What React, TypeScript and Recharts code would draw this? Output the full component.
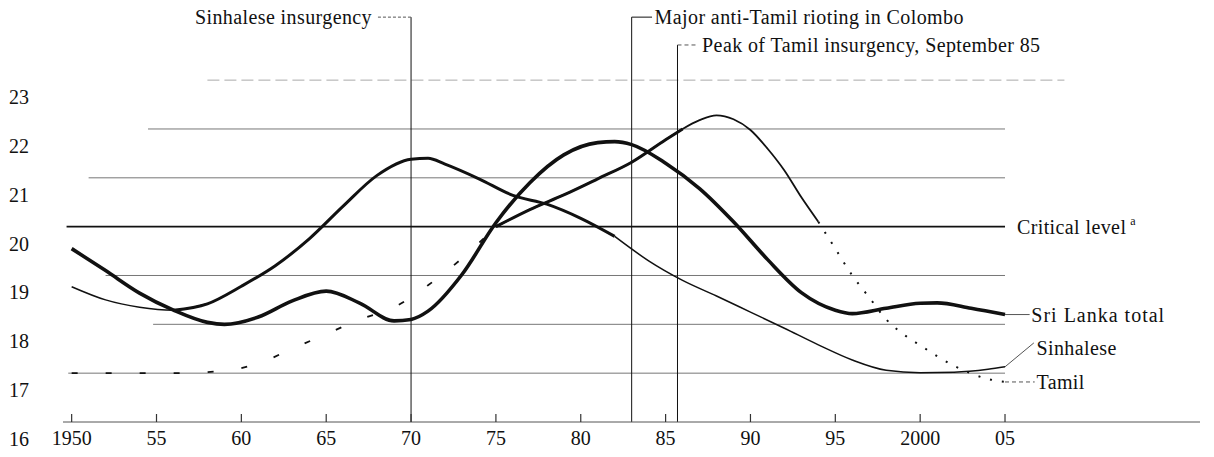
import React from "react";
import {
  LineChart,
  Line,
  XAxis,
  YAxis,
  ReferenceLine,
  ReferenceDot,
} from "recharts";

// ---------- data (percent of youth) ----------
const TOTAL_YEARS = [1950, 1952, 1954, 1956, 1958, 1959, 1961, 1963, 1965, 1967, 1969, 1970, 1971, 1973, 1975, 1977, 1979, 1981, 1982, 1983, 1985, 1987, 1989, 1991, 1993, 1995, 1996, 1998, 2000, 2001, 2003, 2005];
const TOTAL_VALUES = [19.55, 19.1, 18.64, 18.29, 18.04, 18.0, 18.15, 18.48, 18.68, 18.43, 18.07, 18.1, 18.27, 19.02, 20.08, 20.9, 21.47, 21.72, 21.74, 21.68, 21.3, 20.78, 20.1, 19.33, 18.65, 18.29, 18.22, 18.33, 18.43, 18.44, 18.33, 18.2];

const SINHALESE_YEARS = [1950, 1952, 1954, 1956, 1958, 1960, 1962, 1964, 1966, 1968, 1970, 1971, 1972, 1974, 1976, 1978, 1980, 1982, 1984, 1986, 1988, 1990, 1992, 1994, 1996, 1998, 2000, 2002, 2004, 2005];
const SINHALESE_VALUES = [18.77, 18.5, 18.35, 18.29, 18.42, 18.78, 19.2, 19.75, 20.42, 21.05, 21.38, 21.4, 21.28, 20.98, 20.64, 20.46, 20.17, 19.8, 19.3, 18.9, 18.58, 18.25, 17.92, 17.58, 17.27, 17.06, 17.01, 17.02, 17.08, 17.13];

const TAMIL_YEARS = [1950, 1953, 1956, 1959, 1961, 1963, 1965, 1967, 1969, 1971, 1973, 1975, 1977, 1979, 1981, 1983, 1985, 1986, 1987, 1988, 1989, 1990, 1991, 1992, 1993, 1994, 1995, 1996, 1997, 1998, 1999, 2000, 2002, 2004, 2005];
const TAMIL_VALUES = [17.0, 17.0, 17.0, 17.05, 17.2, 17.5, 17.8, 18.1, 18.35, 18.8, 19.35, 20.0, 20.35, 20.65, 20.98, 21.32, 21.78, 22.0, 22.18, 22.28, 22.2, 21.98, 21.6, 21.15, 20.6, 20.1, 19.55, 19.0, 18.55, 18.1, 17.8, 17.57, 17.15, 16.88, 16.82];

const X_TICKS = [1950, 1955, 1960, 1965, 1970, 1975, 1980, 1985, 1990, 1995, 2000, 2005];
const X_TICK_LABELS = ["1950", "55", "60", "65", "70", "75", "80", "85", "90", "95", "2000", "05"];
const Y_TICKS = [16, 17, 18, 19, 20, 21, 22, 23];
const CRITICAL_LEVEL = 20;

const EVENTS = [
  { year: 1970, label: "Sinhalese insurgency" },
  { year: 1983, label: "Major anti-Tamil rioting in Colombo" },
  { year: 1985.7, label: "Peak of Tamil insurgency, September 85" },
];

// ---------- helpers ----------
type Pt = { year: number; v: number };
const toPoints = (years: number[], values: number[]): Pt[] =>
  years.map((y, i) => ({ year: y, v: values[i] }));
const seg = (pts: Pt[], from: number, to: number) =>
  pts.filter((p) => p.year >= from && p.year <= to);

const total = toPoints(TOTAL_YEARS, TOTAL_VALUES);
const sinhalese = toPoints(SINHALESE_YEARS, SINHALESE_VALUES);
const tamil = toPoints(TAMIL_YEARS, TAMIL_VALUES);

const FONT = '"Liberation Serif", "Times New Roman", serif';
const INK = "#111";
const GRID = "#777";

const W = 1214;
const H = 457;

const XTick = (props: any) => {
  const { x, y, payload } = props;
  const idx = X_TICKS.indexOf(payload.value);
  return (
    <g>
      <line x1={x} x2={x} y1={y - 8} y2={y} stroke="#333" strokeWidth={1.2} />
      <text x={x} y={y + 23} textAnchor="middle" fontFamily={FONT} fontSize={20} fill={INK}>
        {X_TICK_LABELS[idx]}
      </text>
    </g>
  );
};

const YTick = (props: any) => {
  const { x, y, payload } = props;
  return (
    <text x={x - 54} y={y + 24} textAnchor="start" fontFamily={FONT} fontSize={20} fill={INK}>
      {payload.value}
    </text>
  );
};

const textShape = (label: React.ReactNode, anchor: "start" | "end" | "middle" = "start", spacing = 0.4) => (p: any) => (
  <text
    x={p.cx}
    y={p.cy + 7}
    textAnchor={anchor}
    fontFamily={FONT}
    fontSize={20}
    letterSpacing={spacing}
    fill={INK}
  >
    {label}
  </text>
);

const lastTotal = TOTAL_VALUES[TOTAL_VALUES.length - 1];
const lastSinh = SINHALESE_VALUES[SINHALESE_VALUES.length - 1];
const lastTamil = TAMIL_VALUES[TAMIL_VALUES.length - 1];
const END = 2005;

export default function App() {
  const ruleTopHigh = 24.29;
  const ruleTopLow = 23.72;
  return (
    <div style={{ position: "absolute", left: 0, top: 0, width: W, height: H, background: "#fff" }}>
      <LineChart width={W} height={H} margin={{ top: 2, right: 14, bottom: 0, left: 0 }}>
        <XAxis
          dataKey="year"
          type="number"
          domain={[1949.49, 2016.49]}
          ticks={X_TICKS}
          interval={0}
          allowDataOverflow
          height={35}
          tickSize={0}
          tickMargin={0}
          tickLine={false}
          axisLine={{ stroke: "#555", strokeWidth: 1 }}
          tick={<XTick />}
        />
        <YAxis
          type="number"
          domain={[16, 24.6]}
          ticks={Y_TICKS}
          interval={0}
          allowDataOverflow
          width={63}
          tickSize={0}
          tickMargin={0}
          tickLine={false}
          axisLine={false}
          tick={<YTick />}
        />

        {/* horizontal grid rules */}
        <ReferenceLine segment={[{ x: 1949.8, y: 17 }, { x: END, y: 17 }]} stroke={GRID} strokeWidth={1} ifOverflow="visible" />
        <ReferenceLine segment={[{ x: 1954.8, y: 18 }, { x: END, y: 18 }]} stroke={GRID} strokeWidth={1} ifOverflow="visible" />
        <ReferenceLine segment={[{ x: 1952, y: 19 }, { x: END, y: 19 }]} stroke={GRID} strokeWidth={1} ifOverflow="visible" />
        <ReferenceLine segment={[{ x: 1949.7, y: CRITICAL_LEVEL }, { x: END, y: CRITICAL_LEVEL }]} stroke={INK} strokeWidth={1.6} ifOverflow="visible" />
        <ReferenceLine segment={[{ x: 1951, y: 21 }, { x: END, y: 21 }]} stroke={GRID} strokeWidth={1} ifOverflow="visible" />
        <ReferenceLine segment={[{ x: 1954.5, y: 22 }, { x: END, y: 22 }]} stroke={GRID} strokeWidth={1} ifOverflow="visible" />
        <ReferenceLine segment={[{ x: 1958, y: 23 }, { x: 2008.5, y: 23 }]} stroke="#aaa" strokeWidth={1} strokeDasharray="12 5" ifOverflow="visible" />

        {/* event rules */}
        <ReferenceLine segment={[{ x: EVENTS[0].year, y: 16 }, { x: EVENTS[0].year, y: ruleTopHigh }]} stroke={INK} strokeWidth={1} ifOverflow="visible" />
        <ReferenceLine segment={[{ x: 1968.05, y: ruleTopHigh }, { x: EVENTS[0].year, y: ruleTopHigh }]} stroke="#555" strokeWidth={1} strokeDasharray="3 2" ifOverflow="visible" />
        <ReferenceDot x={1967.7} y={ruleTopHigh} r={0} ifOverflow="visible" shape={textShape(EVENTS[0].label, "end")} />

        <ReferenceLine segment={[{ x: EVENTS[1].year, y: 16 }, { x: EVENTS[1].year, y: ruleTopHigh }]} stroke={INK} strokeWidth={1} ifOverflow="visible" />
        <ReferenceLine segment={[{ x: EVENTS[1].year, y: ruleTopHigh }, { x: 1984.2, y: ruleTopHigh }]} stroke={INK} strokeWidth={1} ifOverflow="visible" />
        <ReferenceDot x={1984.35} y={ruleTopHigh} r={0} ifOverflow="visible" shape={textShape(EVENTS[1].label)} />

        <ReferenceLine segment={[{ x: EVENTS[2].year, y: 16 }, { x: EVENTS[2].year, y: ruleTopLow }]} stroke={INK} strokeWidth={1} ifOverflow="visible" />
        <ReferenceLine segment={[{ x: EVENTS[2].year, y: ruleTopLow }, { x: 1986.9, y: ruleTopLow }]} stroke="#555" strokeWidth={1} strokeDasharray="4 3" ifOverflow="visible" />
        <ReferenceDot x={1987.15} y={ruleTopLow} r={0} ifOverflow="visible" shape={textShape(EVENTS[2].label)} />

        {/* series: Sri Lanka total */}
        <Line data={total} dataKey="v" type="monotone" dot={false} stroke={INK} strokeWidth={3.6} isAnimationActive={false} />

        {/* series: Sinhalese */}
        <Line data={seg(sinhalese, 1950, 1958)} dataKey="v" type="monotone" dot={false} stroke={INK} strokeWidth={1.5} isAnimationActive={false} />
        <Line data={seg(sinhalese, 1956, 1982)} dataKey="v" type="monotone" dot={false} stroke={INK} strokeWidth={3} isAnimationActive={false} />
        <Line data={seg(sinhalese, 1982, 2005)} dataKey="v" type="monotone" dot={false} stroke={INK} strokeWidth={1.5} isAnimationActive={false} />

        {/* series: Tamil */}
        <Line data={seg(tamil, 1950, 1975)} dataKey="v" type="monotone" dot={false} stroke={INK} strokeWidth={1.8} strokeDasharray="6 28" isAnimationActive={false} />
        <Line data={seg(tamil, 1975, 1994)} dataKey="v" type="monotone" dot={false} stroke={INK} strokeWidth={1.8} isAnimationActive={false} />
        <Line data={seg(tamil, 1975, 1986)} dataKey="v" type="monotone" dot={false} stroke={INK} strokeWidth={3} isAnimationActive={false} />
        <Line data={seg(tamil, 1994, 2005)} dataKey="v" type="monotone" dot={false} stroke={INK} strokeWidth={2} strokeDasharray="2 10" isAnimationActive={false} />

        {/* right-hand labels */}
        <ReferenceDot x={2005.7} y={CRITICAL_LEVEL} r={0} ifOverflow="visible" shape={textShape(<>Critical level<tspan fontSize={12} dy={-9} dx={4}>a</tspan></>)} />

        <ReferenceLine segment={[{ x: END, y: lastTotal }, { x: 2006.45, y: lastTotal }]} stroke="#555" strokeWidth={1} ifOverflow="visible" />
        <ReferenceDot x={2006.55} y={lastTotal} r={0} ifOverflow="visible" shape={textShape("Sri Lanka total", "start", 1)} />

        <ReferenceLine segment={[{ x: END, y: lastSinh }, { x: 2006.7, y: 17.62 }]} stroke="#555" strokeWidth={1} ifOverflow="visible" />
        <ReferenceDot x={2006.85} y={17.51} r={0} ifOverflow="visible" shape={textShape("Sinhalese")} />

        <ReferenceLine segment={[{ x: END, y: lastTamil }, { x: 2006.75, y: lastTamil }]} stroke="#555" strokeWidth={1} strokeDasharray="4 3" ifOverflow="visible" />
        <ReferenceDot x={2006.85} y={lastTamil} r={0} ifOverflow="visible" shape={textShape("Tamil")} />
      </LineChart>
    </div>
  );
}
